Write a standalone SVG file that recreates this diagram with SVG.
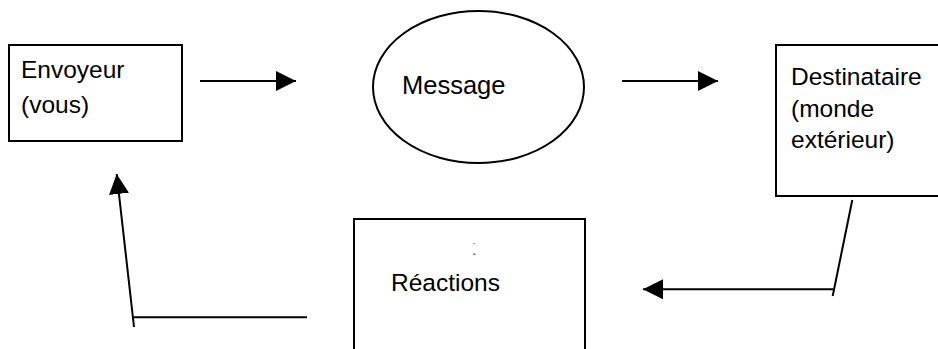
<svg xmlns="http://www.w3.org/2000/svg" width="938" height="349" viewBox="0 0 938 349">
  <style>
    .box { fill: #ffffff; stroke: #000000; stroke-width: 2; }
    .lbl { font-family: "Liberation Sans", Arial, sans-serif; font-size: 24.5px; fill: #000000; }
    .wire { stroke: #000000; stroke-width: 2; fill: none; }
  </style>
  <defs>
    <marker id="head" viewBox="0 0 20 20" refX="20" refY="10" markerWidth="20" markerHeight="20" markerUnits="userSpaceOnUse" orient="auto">
      <path d="M0,0 L20,10 L0,20 Z" fill="#000000"/>
    </marker>
  </defs>
  <rect width="938" height="349" fill="#ffffff"/>

  <g id="envoyeur">
    <rect class="box" x="9" y="45" width="173" height="96"/>
    <text class="lbl" x="21" y="77.5">Envoyeur</text>
    <text class="lbl" x="21" y="113">(vous)</text>
  </g>

  <g id="message">
    <ellipse class="box" cx="478.5" cy="87" rx="105.5" ry="76"/>
    <text class="lbl" x="402" y="94" style="font-size:25.5px">Message</text>
  </g>

  <g id="destinataire">
    <rect class="box" x="776" y="45" width="170" height="151"/>
    <text class="lbl" x="791" y="84.5">Destinataire</text>
    <text class="lbl" x="791" y="116.5">(monde</text>
    <text class="lbl" x="791" y="148">extérieur)</text>
  </g>

  <g id="reactions">
    <rect class="box" x="354" y="219" width="231" height="140"/>
    <rect x="473" y="243" width="2" height="1" fill="#9a9a9a"/>
    <rect x="473" y="253.5" width="2.5" height="1.5" fill="#777777"/>
    <text class="lbl" x="391" y="290.7">Réactions</text>
  </g>

  <g id="connectors">
    <line class="wire" x1="200" y1="81" x2="296" y2="81" marker-end="url(#head)"/>
    <line class="wire" x1="622" y1="81" x2="718" y2="81" marker-end="url(#head)"/>
    <line class="wire" x1="852.3" y1="200" x2="832.7" y2="296"/>
    <line class="wire" x1="833" y1="289.3" x2="643" y2="289.3" marker-end="url(#head)"/>
    <line class="wire" x1="133" y1="317.3" x2="307" y2="317.3"/>
    <line class="wire" x1="134" y1="327" x2="116.7" y2="174" marker-end="url(#head)"/>
  </g>
</svg>
